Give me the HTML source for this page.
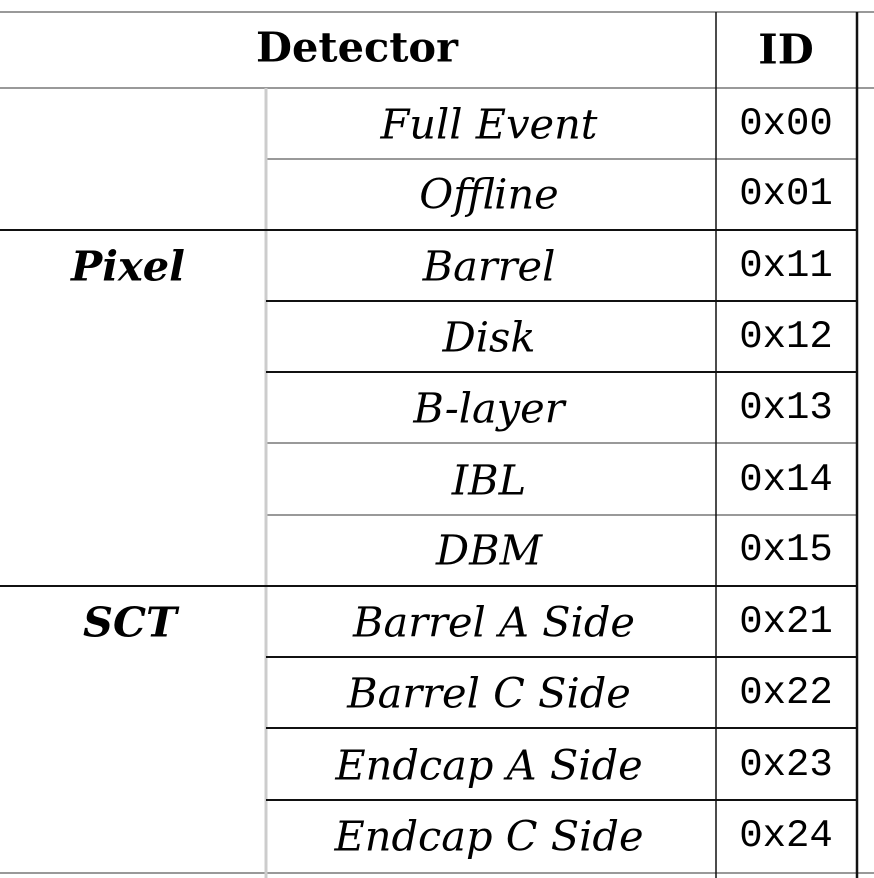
<!DOCTYPE html>
<html><head><style>
html,body{margin:0;padding:0;background:#fff;width:874px;height:878px;overflow:hidden}
.l{font-family:"DejaVu Serif","Liberation Serif",serif;font-style:italic;font-size:41.5px}
.m{font-family:"Liberation Mono",monospace;font-size:39px;font-weight:normal}
.b{font-family:"DejaVu Serif","Liberation Serif",serif;font-weight:bold;font-size:41.5px}
</style></head><body>
<svg width="874" height="878" xmlns="http://www.w3.org/2000/svg">
<g stroke="#999" stroke-width="2">
<line x1="0" y1="12" x2="874" y2="12"/>
<line x1="0" y1="88" x2="874" y2="88"/>
<line x1="266" y1="159" x2="857" y2="159"/>
<line x1="266" y1="443" x2="857" y2="443"/>
<line x1="266" y1="515" x2="857" y2="515"/>
<line x1="0" y1="873" x2="874" y2="873"/>
</g>
<line x1="266" y1="88" x2="266" y2="878" stroke="#ccc" stroke-width="3"/>
<g stroke="#111" stroke-width="2">
<line x1="0" y1="230" x2="857" y2="230"/>
<line x1="266" y1="301" x2="857" y2="301"/>
<line x1="266" y1="372" x2="857" y2="372"/>
<line x1="0" y1="586" x2="857" y2="586"/>
<line x1="266" y1="657" x2="857" y2="657"/>
<line x1="266" y1="728" x2="857" y2="728"/>
<line x1="266" y1="800" x2="857" y2="800"/>
<line x1="716" y1="12" x2="716" y2="878" stroke-width="1.5"/>
</g>
<line x1="857" y1="12" x2="857" y2="878" stroke="#111" stroke-width="2.5"/>
<g text-anchor="middle" dominant-baseline="central">
<text class="b" x="357" y="47">Detector</text>
<text class="b" x="786" y="49">ID</text>
<text class="b" font-style="italic" x="128" y="266">Pixel</text>
<text class="b" font-style="italic" x="130" y="622">SCT</text>
<text class="l" x="489" y="124">Full Event</text>
<text class="l" x="489" y="194">Offline</text>
<text class="l" x="489" y="266">Barrel</text>
<text class="l" x="489" y="337">Disk</text>
<text class="l" x="489" y="408">B-layer</text>
<text class="l" x="489" y="480">IBL</text>
<text class="l" x="489" y="550">DBM</text>
<text class="l" x="494" y="622">Barrel A Side</text>
<text class="l" x="489" y="693">Barrel C Side</text>
<text class="l" x="489" y="765">Endcap A Side</text>
<text class="l" x="489" y="836">Endcap C Side</text>
<text class="m" x="786" y="124">0x00</text>
<text class="m" x="786" y="194">0x01</text>
<text class="m" x="786" y="266">0x11</text>
<text class="m" x="786" y="337">0x12</text>
<text class="m" x="786" y="408">0x13</text>
<text class="m" x="786" y="480">0x14</text>
<text class="m" x="786" y="550">0x15</text>
<text class="m" x="786" y="622">0x21</text>
<text class="m" x="786" y="693">0x22</text>
<text class="m" x="786" y="765">0x23</text>
<text class="m" x="786" y="836">0x24</text>
</g>
</svg>
</body></html>
